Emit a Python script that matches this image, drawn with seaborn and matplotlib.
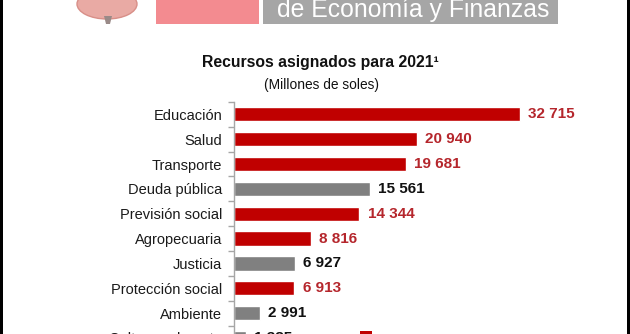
import numpy as np
import pandas as pd
import matplotlib
matplotlib.use("Agg")
import matplotlib.pyplot as plt
from matplotlib.patches import Rectangle, Ellipse, Polygon
import seaborn as sns

# ---- data ----
sectores = ["Educación", "Salud", "Transporte", "Deuda pública", "Previsión social",
            "Agropecuaria", "Justicia", "Protección social", "Ambiente", "Cultura y deporte"]
valores = [32715, 20940, 19681, 15561, 14344, 8816, 6927, 6913, 2991, 1385]
grupo = ["rojo", "rojo", "rojo", "gris", "rojo", "rojo", "gris", "rojo", "gris", "gris"]
titulo = "Recursos asignados para 2021¹"
subtitulo = "(Millones de soles)"
cabecera = "de Economía y Finanzas"

RED = "#C00000"
GRAY = "#808080"
RED_TXT = "#B5262C"
BLK_TXT = "#111111"

sns.set_style("white")
plt.rcParams["font.family"] = ["Liberation Sans", "DejaVu Sans"]

W, H = 630, 334
fig = plt.figure(figsize=(W / 100, H / 100), dpi=100)
fig.patch.set_facecolor("white")

def fx(px):
    return px / W

def fy(py):
    return 1 - py / H

# ---- chart axes ----
ax = fig.add_axes([fx(234), fy(350.4), fx(314.7), (350.4 - 101.9) / H])
df = pd.DataFrame({"sector": sectores, "valor": valores, "grupo": grupo})
sns.barplot(data=df, x="valor", y="sector", hue="grupo", orient="h",
            palette={"rojo": RED, "gris": GRAY}, dodge=False, width=0.575,
            legend=False, ax=ax, saturation=1)

for cont in ax.containers:
    labels = []
    for bar in cont:
        w = bar.get_width()
        labels.append("" if np.isnan(w) else f"{int(round(w)):,}".replace(",", " "))
    fc = cont[0].get_facecolor() if len(cont) else (0, 0, 0, 1)
    is_red = fc[0] > 0.6 and fc[1] < 0.3
    ax.bar_label(cont, labels=labels, padding=6, fontsize=11, fontweight="bold",
                 color=RED_TXT if is_red else BLK_TXT)

ax.set_xlim(0, 36000)
ax.set_ylim(len(sectores) - 0.5, -0.5)
ax.set_xlabel("")
ax.set_ylabel("")
ax.set_xticks([])
for s in ["top", "right", "bottom"]:
    ax.spines[s].set_visible(False)
ax.spines["left"].set_color("#a6a6a6")
ax.spines["left"].set_linewidth(1.0)
ax.set_yticks(np.arange(len(sectores)))
ax.set_yticklabels(sectores, fontsize=10.5, color="#1a1a1a")
ax.set_yticks(np.arange(-0.5, len(sectores), 1), minor=True)
ax.tick_params(axis="y", which="major", length=0, pad=8.6)
ax.tick_params(axis="y", which="minor", length=4, width=1, color="#a6a6a6", left=True)
ax.set_facecolor("white")

# ---- titles ----
fig.text(fx(320), fy(62.5), titulo, ha="center", va="center", fontsize=11.3,
         fontweight="bold", color="#111111")
fig.text(fx(322), fy(85), subtitulo, ha="center", va="center", fontsize=9.9,
         color="#111111")

# ---- header (logo and banner) ----
fig.add_artist(Ellipse((fx(107), fy(4)), fx(60), 30 / H, transform=fig.transFigure,
                       facecolor="#e9aaa4", edgecolor="#d88f88", lw=1))
fig.add_artist(Polygon([(fx(104), fy(16)), (fx(112), fy(16)), (fx(110), fy(24)), (fx(106), fy(24))],
                       closed=True, transform=fig.transFigure, facecolor="#9a8a88", edgecolor="none"))
fig.add_artist(Rectangle((fx(156), fy(24)), fx(103), 24 / H, transform=fig.transFigure,
                         facecolor="#F38B90", edgecolor="none"))
fig.add_artist(Rectangle((fx(263), fy(24)), fx(295), 24 / H, transform=fig.transFigure,
                         facecolor="#A6A6A6", edgecolor="none"))
t = fig.text(fx(277), fy(16.5), cabecera, ha="left", va="baseline", fontsize=20, color="white")
fig.canvas.draw()
bb = t.get_window_extent(renderer=fig.canvas.get_renderer())
t.set_fontsize(20 * 272 / bb.width)

# legend key partly visible at the bottom
fig.add_artist(Rectangle((fx(360), fy(343)), fx(12), 12 / H, transform=fig.transFigure,
                         facecolor=RED, edgecolor="none"))

# ---- black frame edges ----
fig.add_artist(Rectangle((0, 0), fx(3), 1, transform=fig.transFigure, facecolor="black", edgecolor="none"))
fig.add_artist(Rectangle((fx(627), 0), fx(3), 1, transform=fig.transFigure, facecolor="black", edgecolor="none"))

fig.savefig("out.png", dpi=100, facecolor="white")
